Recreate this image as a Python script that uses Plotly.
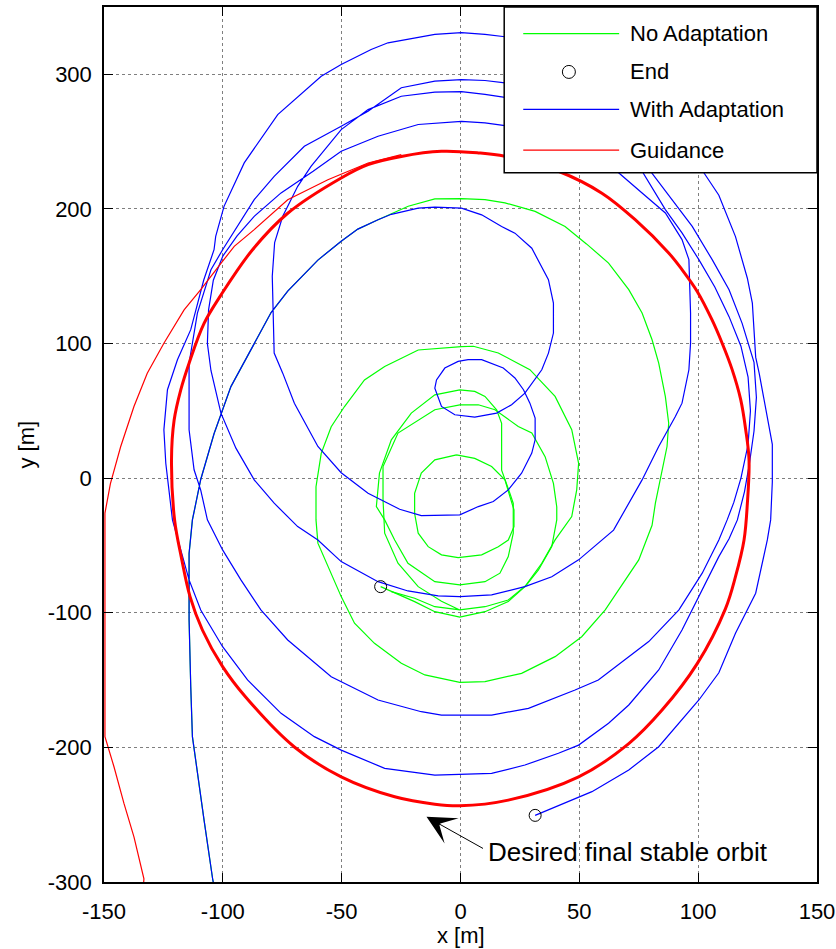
import plotly.graph_objects as go

# ---- data (x [m], y [m]) ----
# common initial approach shared by both runs
start_x = [-103.5, -104.3, -107.9, -110.7, -112.8, -113.5, -114.2, -114.2, -112.8, -109.3, -103.7, -96.6, -86.8, -79.7, -72.7, -60.0, -50.2, -43.2, -34.7]
start_y = [-305, -297.6, -254, -217, -192, -155, -105, -56, -31, -1, 33, 68, 100, 123, 139, 162, 176, 185, 192]

# run without adaptation (continues from the common approach)
noad_x = [-22.0, -10.8, 0.4, 10.3, 18.7, 31.4, 44.0, 53.0, 62.3, 70.8, 76.4, 80.6, 83.4, 86.2, 87.6, 86.9, 84.8, 82.0, 80.6, 75.0, 60.9, 51.0, 39.8, 25.7, 10.3, -0.3, -15.0, -24.9, -36.2, -44.6, -50.2, -55.8, -60.0, -60.8, -60.8, -58.6, -54.4, -48.8, -40.4, -31.9, -17.8, 0.4, 5.4, 15.9, 29.2, 39.8, 46.8, 49.7, 48.9, 46.8, 39.8, 34.2, 27.1, 20.1, 10.3, -0.3, -10.8, -19.3, -27.7, -33.6]
noad_y = [202, 207.4, 207.6, 206.9, 204.5, 198.2, 187, 174, 159.8, 140, 122.7, 102.8, 85.4, 60.6, 40.8, 23.5, 6.2, -18.6, -35, -60.7, -97.9, -117.8, -132.6, -145, -151.2, -151.7, -146.2, -137.5, -122.7, -107.8, -88, -65.7, -48.3, -31, -6.4, 18.4, 38.2, 53.2, 73, 82.9, 95.2, 97.7, 98, 93, 80.6, 60.7, 36, 11, -8.7, -28.5, -45.9, -63.2, -80.6, -91.7, -99.2, -103.3, -99.2, -91.7, -85.5, -80.6]

# inner oscillations of the run without adaptation
inner_b_x = [-0.3, 6.0, 10.3, 15.2, 17.3, 17.3, 20.8, 22.2, 22.2, 20.1, 16.6, 10.3, -0.3, -10.8, -22.1, -27.7, -31.9, -35.4, -34.1, -29.1, -20.7, -10.8, -0.3]
inner_b_y = [65.6, 64.4, 60.7, 50.8, 40.7, 6, -11.3, -18.8, -40.9, -58.3, -70.6, -76.9, -79.3, -76.9, -63.2, -45.9, -31, -21.1, 3.7, 28.5, 48.3, 61.9, 65.6]
inner_a_x = [-1.7, 6.0, 13.1, 18.7, 20.8, 22.5, 22.5, 20.1, 15.9, 8.9, -1.0, -8.0, -13.6, -17.8, -19.3, -19.3, -16.5, -10.8, -1.7]
inner_a_y = [17.3, 14.7, 8.6, -1.3, -13.7, -23.6, -36, -46, -50.9, -57, -59, -57, -50.9, -40.9, -26.3, -11.2, 3.7, 13.6, 17.3]
inner_c_x = [-0.3, -8.0, -17.8, -26.3, -31.9, -32.6, -32.6, -26.3, -10.8, -0.3, 7.5, 14.5, 24.3, 30.0, 35.6, 39.1, 40.5, 40.5, 38.4, 32.8, 27.8, 20.1, 10.3, -0.3, -10.8, -19.3, -29.1]
inner_c_y = [-97.9, -91.5, -80.6, -63.2, -40.9, -16, 8.6, 33.5, 50.8, 54.5, 54.5, 50.8, 38.4, 33.5, 16, -3.9, -21.4, -31, -50.8, -68.2, -79.3, -90.5, -95.5, -97.9, -95.5, -89.2, -84.3]

# run with adaptation (continues from the common approach)
adap_x = [-29.1, -17.8, -10.8, 0.4, 8.9, 17.3, 22.9, 30.0, 34.2, 37.0, 39.1, 39.1, 37.0, 34.2, 27.1, 21.5, 15.2, 6.0, -2.4, -8.0, -10.8, -10.1, -6.6, -1.0, 3.2, 8.9, 18.0, 22.9, 26.5, 29.2, 31.4, 31.4, 30.0, 25.7, 20.1, 13.8, 7.5, -0.3,
          -16.5, -25.6, -38.9, -50.2, -60.0, -69.9, -74.8, -78.4, -79.2, -78.2, -74.8, -68.5, -62.9, -50.2, -38.9, -24.9, -10.8, 0.4, 10.3, 18.7, 35.0, 50.0, 58.0, 65.8, 76.4, 86.2, 93.2, 96.1, 96.8, 96.8, 96.1, 93.2, 90.4, 83.4, 76.4, 64.4, 49.7, 38.4, 27.1, 13.1, -0.3,
          -9.4, -22.1, -34.7, -50.2, -60.0, -68.5, -78.4, -86.8, -94.5, -100.8, -105.0, -106.5, -106.0, -104.0, -100.0, -94.0, -86.8, -75.5, -62.0, -50.2, -34.7, -17.8, 0.4, 10.3, 18.7, 40.0, 60.0, 76.4, 86.2, 93.2, 100.3, 107.0, 113.0, 118.0, 121.0, 122.0, 121.0, 118.0, 115.0, 112.2, 108.7, 101.7, 91.9, 79.2, 70.8, 58.0, 48.2, 28.6, 13.1,
          -8.0, -16.5, -34.7, -54.4, -72.7, -84.0, -92.4, -100.1, -106.5, -109.3, -112.1, -114.2, -114.2, -110.7, -105.0, -100.1, -86.8, -78.4, -65.7, -50.2, -38.9, -24.9, -10.8, 0.4, 10.3, 18.7, 40.0, 60.0, 72.0, 79.9, 89.0, 97.5, 105.9, 113.0, 118.5, 123.5, 124.5, 123.5, 121.5, 119.5, 116.5, 113.0, 108.7, 100.3, 93.2, 83.4, 70.8, 62.3, 49.7, 41.2, 27.1, 13.1,
          -10.8, -31.9, -50.2, -61.5, -75.5, -89.6, -100.1, -109.3, -114.2, -121.2, -124.0, -124.8, -123.3, -119.1, -113.5, -108.0, -103.7, -103.0, -99.5, -91.0, -76.9, -58.6, -50.2, -37.6, -30.5, -10.8, 0.4, 10.3, 18.7, 45.0, 70.0, 88.0, 101.7, 108.7, 115.7, 120.7, 122.8, 124.2, 125.7, 131.2, 131.2, 130.5, 129.1, 124.2, 115.7, 108.7, 100.3, 83.4, 70.8, 55.3, 31.4]
adap_y = [196, 200.6, 201.3, 200.6, 195.6, 186.9, 182, 170.8, 157.3, 147.4, 130, 107.8, 92.9, 80.5, 63.1, 54.5, 48.3, 45.4, 47.1, 53.3, 66.9, 73, 81.8, 86.7, 88, 88, 81.8, 74.4, 65.7, 55.7, 44.6, 28.5, 18.6, 3.7, -8.7, -17.4, -21.1, -27.3,
          -27.8, -23.1, -11.2, 4, 23.5, 55.7, 78, 92.9, 150, 175, 194.5, 216.8, 231.6, 258.9, 273.8, 283.7, 286.7, 287.1, 285.1, 282.9, 275, 256, 243, 228, 211.8, 197, 177.2, 162.3, 122.6, 100.3, 80.5, 55.7, 45.8, 23.5, -1.3, -38.6, -60.7, -73.2, -80.6, -86.7, -88,
          -87.5, -83.8, -76.9, -62, -45.9, -36, -18.6, -1.3, 22.3, 48.3, 80, 100, 125, 147, 165, 180, 194.5, 211.9, 228, 242.8, 254, 262.7, 265.1, 263.9, 261.9, 252, 240, 228, 199.5, 182.2, 162.3, 142, 120, 98, 75, 50, 25, 0, -18, -31, -45.9, -70.6, -97.9, -121.4, -132.6, -150, -157.4, -171, -176,
          -176, -173.5, -164.8, -147.5, -120.2, -97.9, -75.6, -53.3, -31, -8.9, 6.2, 35.9, 85.4, 122.6, 154.8, 169.7, 206.9, 224.2, 246.5, 261.4, 272.6, 290, 294.9, 296.1, 295.4, 293.7, 280, 256, 240, 228, 206.9, 187, 162.3, 140, 115, 86, 60, 35, 10, -10, -31, -45, -58.3, -88, -112.8, -142.5, -168.5, -182.1, -198.3, -204.4, -213.1, -219.3,
          -220.6, -215.6, -202, -192, -174.7, -149.9, -125.2, -97.9, -75.6, -31, 11.1, 35.9, 65.7, 88, 110.3, 147.4, 169.7, 179.6, 201.9, 234.2, 270.1, 298.6, 307.3, 318.4, 323.4, 329.6, 330.9, 329.6, 327.9, 315, 290, 260, 228.7, 210.2, 179.4, 148.5, 130, 89.9, 77.6, 25.1, -2.8, -31, -45.9, -85.5, -115.2, -144.6, -164.8, -199.5, -216.8, -232.9, -250.5]

# guidance: approach then the desired orbit
guide_x = [-133.5, -133.2, -137.4, -141.6, -145.8, -149.4, -149.6, -149.6, -147.3, -143.0, -137.4, -131.8, -124.8, -116.3, -109.3, -100.8, -95.2, -86.8, -72.7, -55.8, -38.9, -24.9]
guide_y = [-305, -297.6, -266.5, -241.6, -214.4, -194.6, -192, -26, -4, 23.3, 53.2, 77.9, 100.2, 125, 140, 159.6, 172.2, 184.6, 206.8, 221.7, 234.1, 240.3]
orbit_x = [-8.0, 7.5, 18.7, 41.2, 59.5, 73.5, 87.6, 93.2, 99.6, 105.8, 110.1, 114.3, 117.9, 120.0, 121.4, 120.7, 119.3, 115.7, 111.5, 99.6, 84.8, 70.8, 49.7, 20.1, -0.3, -10.8, -27.7, -50.2, -69.9, -90.5, -100.1, -108.6, -113.8, -117.5, -120.3, -121.6, -120.5, -117.7, -114.2, -107.9, -100.8, -87.5, -72.7, -50.2, -38.9, -24.9, -8.0]
orbit_y = [242.8, 241.6, 239.1, 228, 211.7, 192, 167.3, 154.9, 138.7, 117.7, 100.2, 80.6, 58.3, 36, 13.6, -18.8, -45.9, -73.2, -96.9, -137.8, -172.3, -197.2, -221.9, -239.2, -243.4, -242.2, -236.7, -221.9, -199.7, -162.4, -140, -112.8, -88, -58.5, -31, 13.6, 43, 65.6, 85.4, 115, 136, 169.7, 196.8, 223, 232.9, 239, 242.8]

# end points of both runs
end_x = [-33.6, 31.4]
end_y = [-80.6, -250.5]

legend_labels = ["No Adaptation", "End", "With Adaptation", "Guidance"]
x_ticks = [-150, -100, -50, 0, 50, 100, 150]
y_ticks = [-300, -200, -100, 0, 100, 200, 300]

GREEN, BLUE, RED = "#00ff00", "#0000ff", "#ff0000"
FONT = "Liberation Sans, Arial, sans-serif"

fig = go.Figure()

green_x = start_x + noad_x + [None] + inner_b_x + [None] + inner_a_x + [None] + inner_c_x
green_y = start_y + noad_y + [None] + inner_b_y + [None] + inner_a_y + [None] + inner_c_y
fig.add_trace(go.Scatter(x=green_x, y=green_y, mode="lines", line=dict(color=GREEN, width=1.2),
                         name=legend_labels[0]))
fig.add_trace(go.Scatter(x=start_x + adap_x, y=start_y + adap_y, mode="lines",
                         line=dict(color=BLUE, width=1.2), name=legend_labels[2]))
fig.add_trace(go.Scatter(x=end_x, y=end_y, mode="markers",
                         marker=dict(symbol="circle-open", size=12, color="black", line=dict(width=1)),
                         name=legend_labels[1]))
fig.add_trace(go.Scatter(x=guide_x, y=guide_y, mode="lines", line=dict(color=RED, width=1.2),
                         name=legend_labels[3]))
fig.add_trace(go.Scatter(x=orbit_x, y=orbit_y, mode="lines", line=dict(color=RED, width=3, shape="spline"),
                         name=legend_labels[3]))

# annotation arrow and label
fig.add_annotation(x=-14.3, y=-251.6, ax=10.1, ay=-275.7, xref="x", yref="y", axref="x", ayref="y",
                   text="", showarrow=True, arrowhead=3, arrowsize=4.8, arrowwidth=1, arrowcolor="black")
fig.add_annotation(x=10.9, y=-278, xref="x", yref="y", text="Desired final stable orbit", showarrow=False,
                   xanchor="left", yanchor="middle", font=dict(family=FONT, size=26, color="black"))

# legend box drawn in paper coordinates
L, R, T, B = 0.5613, 1.0, 1.0, 0.8106
fig.add_shape(type="rect", xref="paper", yref="paper", x0=L, x1=R, y0=B, y1=T,
              fillcolor="white", line=dict(color="black", width=1.5), layer="above")
rows = [0.9695, 0.9258, 0.8829, 0.8364]
cols = [GREEN, None, BLUE, RED]
for label, yy, c in zip(legend_labels, rows, cols):
    if c is not None:
        fig.add_shape(type="line", xref="paper", yref="paper", x0=0.588, x1=0.7225, y0=yy, y1=yy,
                      line=dict(color=c, width=1.2), layer="above")
    else:
        fig.add_shape(type="circle", xref="paper", yref="paper", xsizemode="pixel", ysizemode="pixel",
                      xanchor=0.652, yanchor=yy, x0=-6.5, x1=6.5, y0=-6.5, y1=6.5,
                      line=dict(color="black", width=1), layer="above")
    fig.add_annotation(x=0.735, y=yy, xref="paper", yref="paper", text=label, showarrow=False,
                       xanchor="left", yanchor="middle", font=dict(family=FONT, size=22, color="black"))

# axis titles
fig.add_annotation(x=0, y=-0.061, xref="x", yref="paper", text="x [m]", showarrow=False,
                   xanchor="center", yanchor="middle", font=dict(family=FONT, size=22, color="black"))
fig.add_annotation(x=-0.108, y=0.5, xref="paper", yref="paper", text="y [m]", showarrow=False, textangle=-90,
                   xanchor="center", yanchor="middle", font=dict(family=FONT, size=22, color="black"))

axis_common = dict(showline=True, linecolor="black", linewidth=1.5, mirror="ticks", ticks="inside",
                   ticklen=9, tickwidth=1, tickcolor="black", showgrid=True, gridcolor="#7f7f7f",
                   griddash="dot", gridwidth=1, zeroline=False, automargin=False,
                   tickfont=dict(family=FONT, size=22, color="black"))
fig.update_xaxes(range=[-150, 150], tickvals=x_ticks, ticktext=[str(v) for v in x_ticks],
                 ticklabelstandoff=9, **axis_common)
fig.update_yaxes(range=[-300, 350], tickvals=y_ticks, ticktext=[str(v) for v in y_ticks],
                 ticklabelstandoff=6, **axis_common)
fig.update_layout(width=836, height=949, margin=dict(l=103.5, r=19, t=7, b=67),
                  paper_bgcolor="white", plot_bgcolor="white", showlegend=False)

fig.write_html("out.html")
